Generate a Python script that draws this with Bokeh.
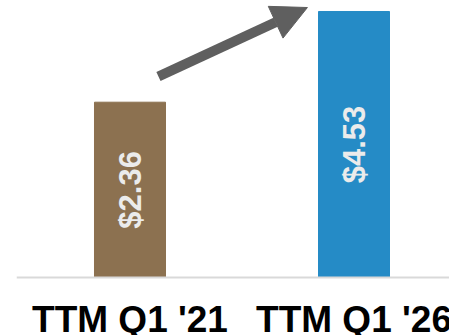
import math
from bokeh.plotting import figure
from bokeh.models import Range1d, ColumnDataSource, Arrow, NormalHead, Span
from bokeh.core.properties import value
from bokeh.embed import file_html
from bokeh.resources import INLINE

# data
categories = ["TTM Q1 '21", "TTM Q1 '26"]
values = [2.36, 4.53]
labels = ["$2.36", "$4.53"]
colors = ["#8c7150", "#258bc6"]

base = -1.834          # value at the grey baseline
y_bottom = -3.222      # bottom of the drawing area
y_end = 4.793
xs = list(range(len(categories)))

src = ColumnDataSource(dict(
    x=xs,
    top=values,
    label=labels,
    color=colors,
    mid=[(base + v) / 2 for v in values],
))

cat_src = ColumnDataSource(dict(
    x=xs,
    text=categories,
    y=[base - 1.0] * len(xs),
))

p = figure(width=449, height=335, output_backend="svg", toolbar_location=None,
           x_range=Range1d(-0.5067, 1.4263), y_range=Range1d(y_bottom, y_end),
           min_border_left=16, min_border_right=0, min_border_top=0,
           min_border_bottom=0)
p.outline_line_color = None
p.grid.visible = False
p.xaxis.visible = False
p.yaxis.visible = False
p.background_fill_color = "white"
p.border_fill_color = "white"

p.vbar(x="x", top="top", bottom=base, width=0.317, color="color", source=src)

p.add_layout(Span(location=base, dimension="width", line_color="#d9d9d9", line_width=2))

p.text(x="x", y="mid", text="label", source=src, angle=math.pi / 2,
       text_align="center", text_baseline="middle",
       text_font=value("Liberation Sans"), text_font_style="bold",
       text_font_size="31px", text_color="#ebebeb")

p.text(x="x", y="y", text="text", source=cat_src,
       text_align="center", text_baseline="alphabetic",
       text_font=value("Liberation Sans"), text_font_style="bold",
       text_font_size="37px", text_color="black")

arrow = Arrow(end=NormalHead(size=35, fill_color="#5f5f5f", line_color="#5f5f5f", line_width=1),
              x_start=0.127, y_start=2.975, x_end=0.792, y_end=4.625,
              line_color="#5f5f5f", line_width=10)
p.add_layout(arrow)

open("out.html", "w").write(file_html(p, INLINE))
